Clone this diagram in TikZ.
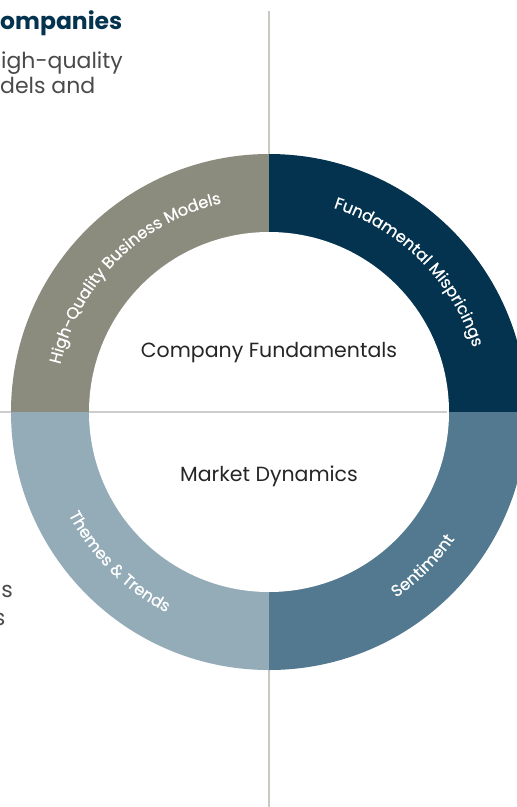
\documentclass[tikz,border=0pt]{standalone}
\usepackage{fontspec}
\setmainfont{Poppins}
\newfontfamily\arcfam[FakeBold=0.6]{Poppins}
\usetikzlibrary{decorations.text}
\definecolor{segGrey}{HTML}{8B8C7E}
\definecolor{segNavy}{HTML}{04334F}
\definecolor{segLight}{HTML}{94ACB8}
\definecolor{segMid}{HTML}{52798F}
\definecolor{lineGrey}{HTML}{C9C9C1}
\definecolor{divGrey}{HTML}{CDCDCD}
\definecolor{bodyGrey}{HTML}{4A4A4A}
\definecolor{darkText}{HTML}{262626}
\newcommand\arcfont{\arcfam\fontsize{16.3}{16.3}\selectfont}
\tikzset{
  vline/.style={draw=lineGrey, line width=2.3pt},
  hline/.style={draw=divGrey, line width=1.4pt},
  centertext/.style={anchor=base, inner sep=0pt, text=darkText, font=\fontsize{20.5}{20.5}\selectfont},
  bodytext/.style={inner sep=0pt, text=bodyGrey, font=\fontsize{22}{22}\selectfont},
  headtext/.style={inner sep=0pt, text=segNavy, font=\fontsize{23.5}{23.5}\selectfont\bfseries},
  arclabel/.style={decorate, decoration={text along path, text align=center, text color=white, text={|\arcfont|#1}}}
}
\begin{document}
\begin{tikzpicture}[x=1pt,y=1pt]
\useasboundingbox (0,0) rectangle (517,-807);
\clip (0,0) rectangle (517,-807);
\fill[white] (0,0) rectangle (517,-807);
\coordinate (c) at (269,-412);
\coordinate (vtop) at (269,-11);
\coordinate (vbot) at (269,-807);
\coordinate (hl) at (0,-412);
\coordinate (hr) at (517,-412);
\draw[vline] (vtop) -- (vbot);
\draw[hline] (hl) -- (hr);
% ring segments
\fill[segGrey] (c) -- ++(90:258) arc[start angle=90,end angle=180,radius=258] -- cycle;
\fill[segNavy] (c) -- ++(0:258) arc[start angle=0,end angle=90,radius=258] -- cycle;
\fill[segLight] (c) -- ++(180:258) arc[start angle=180,end angle=270,radius=258] -- cycle;
\fill[segMid] (c) -- ++(270:258) arc[start angle=270,end angle=360,radius=258] -- cycle;
\fill[white] (c) circle[radius=180];
\coordinate (il) at (89,-412);
\coordinate (ir) at (447,-412);
\draw[hline] (il) -- (ir);
% arc labels
\path[arclabel={High-Quality Business Models}] (c) ++(180:214) arc[start angle=180,end angle=90,radius=214];
\path[arclabel={Fundamental Mispricings}] (c) ++(90:214) arc[start angle=90,end angle=0,radius=214];
\path[arclabel={Themes {\&} Trends}] (c) ++(180:225) arc[start angle=180,end angle=270,radius=225];
\path[arclabel={Sentiment}] (c) ++(270:225) arc[start angle=270,end angle=360,radius=225];
% centre texts
\node[centertext] (cf) at (269,-357.7) {Company Fundamentals};
\node[centertext] (md) at (269,-481.7) {Market Dynamics};
% cut-off side texts
\node[headtext, anchor=base west] (t1) at (0,-29) {ompanies};
\node[bodytext, anchor=base west] (t2) at (1,-68) {igh-quality};
\node[bodytext, anchor=base west] (t3) at (0,-93) {dels and};
\node[bodytext, anchor=base east] (l1) at (13,-597) {ns};
\node[bodytext, anchor=base east] (l2) at (5.5,-625) {s};
\end{tikzpicture}
\end{document}
